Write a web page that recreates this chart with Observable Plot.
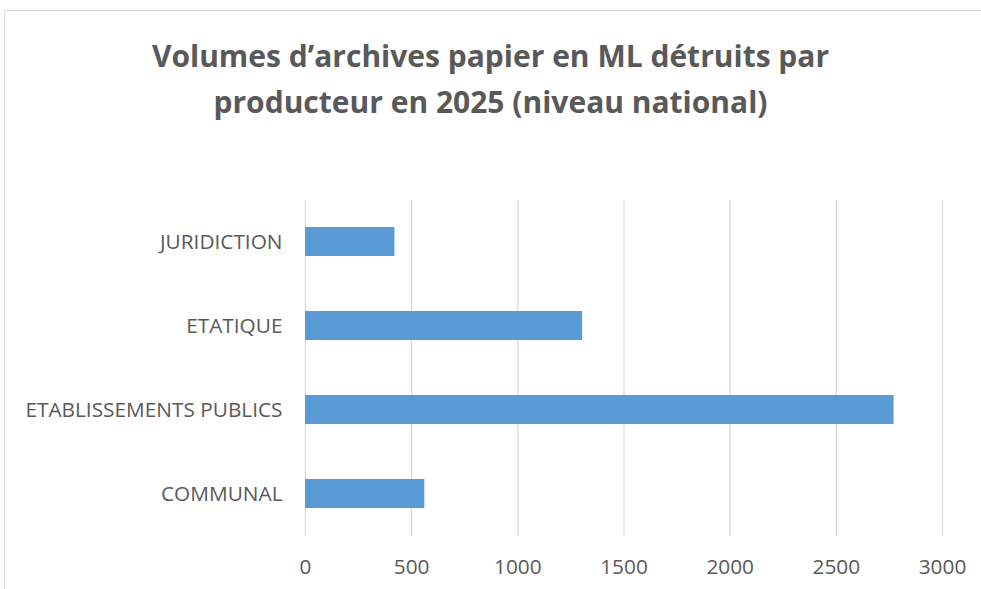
<!DOCTYPE html>
<html>
<head>
<meta charset="utf-8">
<script src="https://cdn.jsdelivr.net/npm/d3@7"></script>
<script src="https://cdn.jsdelivr.net/npm/@observablehq/plot@0.6"></script>
<style>
  html, body { margin: 0; padding: 0; background: #fff; }
  #wrap { position: relative; width: 981px; height: 589px; overflow: hidden; background: #fff; }
  #frame { position: absolute; left: 4px; top: 10px; width: 1100px; height: 700px; border: 1px solid #d9d9d9; box-sizing: border-box; }
  #title { position: absolute; left: 0; top: 33px; width: 981px; text-align: center; font-family: "Open Sans", sans-serif; font-weight: 700; font-size: 30px; line-height: 46px; color: #595959; }
  #chart { position: absolute; left: 0; top: 160px; }
</style>
</head>
<body>
<div id="wrap">
  <div id="frame"></div>
  <div id="title">Volumes d’archives papier en ML détruits par<br>producteur en 2025 (niveau national)</div>
  <div id="chart"></div>
</div>
<script>
const categories = ["JURIDICTION", "ETATIQUE", "ETABLISSEMENTS PUBLICS", "COMMUNAL"];
const values = [421, 1305, 2772, 562];
const xTicks = [0, 500, 1000, 1500, 2000, 2500, 3000];

const data = categories.map((c, i) => ({category: c, value: values[i]}));

const chart = Plot.plot({
  width: 981,
  height: 429,
  marginLeft: 305,
  marginRight: 39,
  marginTop: 40,
  marginBottom: 53,
  style: {fontFamily: "Open Sans, sans-serif", fontSize: "20.8px", color: "#595959", background: "transparent", overflow: "visible"},
  x: {domain: [0, 3000], ticks: xTicks, label: null},
  y: {domain: categories, paddingInner: 0.65, paddingOuter: 0.325, label: null},
  marks: [
    Plot.gridX(xTicks, {stroke: "#d9d9d9", strokeOpacity: 1, strokeWidth: 1.3}),
    Plot.barX(data, {x: "value", y: "category", fill: "#5b9bd5"}),
    Plot.axisX({ticks: xTicks, tickSize: 0, tickPadding: 23, tickFormat: d => String(d), fill: "#595959", label: null}),
    Plot.axisY({tickSize: 0, tickPadding: 23, fill: "#595959", label: null})
  ]
});
document.getElementById("chart").appendChild(chart);
</script>
</body>
</html>
